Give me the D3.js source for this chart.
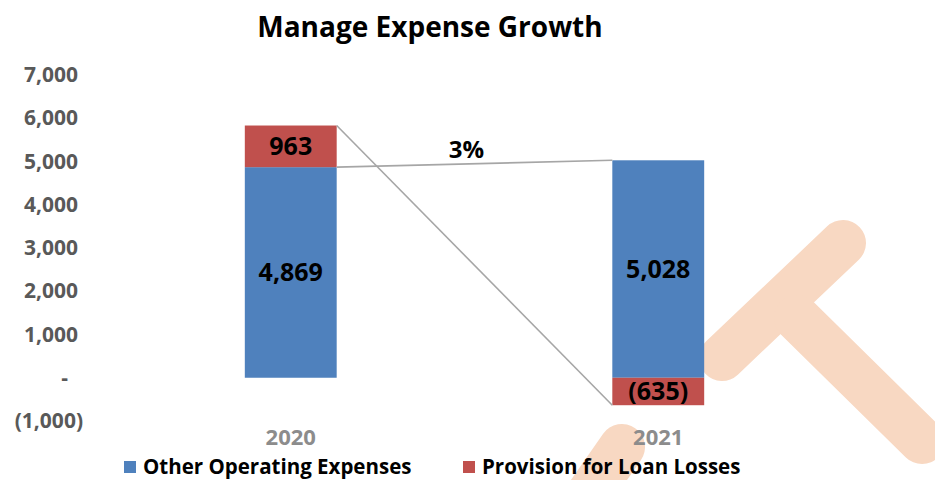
<!DOCTYPE html>
<html>
<head>
<meta charset="utf-8">
<script src="https://cdn.jsdelivr.net/npm/d3@7"></script>
<style>
  body { margin: 0; background: #fff; }
  text { font-family: "Open Sans", "Noto Sans", sans-serif; font-weight: bold; }
</style>
</head>
<body>
<div id="chart"></div>
<script>
// chart data
const years = ["2020", "2021"]
const otherOperating = [4869, 5028]
const loanProvision = [963, -635]
const seriesNames = ["Other Operating Expenses", "Provision for Loan Losses"]
const yTicks = [-1000, 0, 1000, 2000, 3000, 4000, 5000, 6000, 7000]

// watermark strokes (background logo, not data)
const watermark = [
    [[843, 243], [722, 358]],
    [[797, 318], [922, 441]],
    [[622, 447], [585, 500]]
]

const width = 935, height = 480

const svg = d3.select("#chart")
    .append("svg")
    .attr("width", width)
    .attr("height", height)

// watermark behind everything
svg.append("g")
    .selectAll("path")
    .data(watermark)
    .enter()
    .append("path")
    .attr("d", d => d3.line()(d))
    .attr("stroke", "#f8d8c2")
    .attr("stroke-width", 46)
    .attr("stroke-linecap", "round")
    .attr("fill", "none")

const rows = years.map((y, i) => ({year: y, other: otherOperating[i], provision: loanProvision[i]}))

const xScale = d3.scaleBand()
    .domain(years)
    .range([107, 842])
    .paddingInner(0.75)
    .paddingOuter(0.375)

const yScale = d3.scaleLinear()
    .domain([-1000, 7000])
    .range([421, 75])

const colors = ["#4f81bd", "#c0504d"]

// y axis, no line and no ticks
const fmt = d3.format(",")
const yAxis = d3.axisLeft(yScale)
    .tickValues(yTicks)
    .tickSize(0)
    .tickPadding(0)
    .tickFormat(d => d === 0 ? "-" : d < 0 ? "(" + fmt(-d) + ")" : fmt(d))

const yAxisGroup = svg.append("g")
    .attr("transform", "translate(78,0)")
    .call(yAxis)
yAxisGroup.select(".domain").remove()
yAxisGroup.selectAll("text")
    .attr("font-size", 21)
    .attr("fill", "#595959")
    .style("font-family", "\"Open Sans\", sans-serif")
    .attr("dx", d => d === 0 ? -10 : d < 0 ? 5 : 0)

// stacked bars
const keys = ["other", "provision"]
const stack = d3.stack()
    .keys(keys)
    .offset(d3.stackOffsetDiverging)
const stacked = stack(rows)

svg.append("g")
    .selectAll("g")
    .data(stacked)
    .enter()
    .append("g")
    .attr("fill", (d, i) => colors[i])
    .selectAll("rect")
    .data(d => d)
    .enter()
    .append("rect")
    .attr("x", d => xScale(d.data.year))
    .attr("width", xScale.bandwidth())
    .attr("y", d => yScale(Math.max(d[0], d[1])))
    .attr("height", d => Math.abs(yScale(d[0]) - yScale(d[1])))

// connector lines
const x0 = xScale(years[0]) + xScale.bandwidth()
const x1 = xScale(years[1])
const total0 = otherOperating[0] + loanProvision[0]
const bottom1 = Math.min(0, loanProvision[1])
const connectors = [
    [[x0, yScale(otherOperating[0])], [x1, yScale(otherOperating[1])]],
    [[x0, yScale(total0)], [x1, yScale(bottom1)]]
]
svg.append("g")
    .selectAll("path")
    .data(connectors)
    .enter()
    .append("path")
    .attr("d", d => d3.line()(d))
    .attr("stroke", "#a6a6a6")
    .attr("stroke-width", 1.6)
    .attr("fill", "none")

// segment labels
const labelFmt = v => v < 0 ? "(" + fmt(-v) + ")" : fmt(v)
stacked.forEach(s => {
    svg.append("g")
        .selectAll("text")
        .data(s)
        .enter()
        .append("text")
        .attr("x", d => xScale(d.data.year) + xScale.bandwidth() / 2)
        .attr("y", d => yScale((d[0] + d[1]) / 2))
        .attr("dy", "0.36em")
        .attr("text-anchor", "middle")
        .attr("font-size", 25)
        .attr("fill", "#000")
        .text(d => labelFmt(d.data[s.key]))
})

// growth label
const growth = (otherOperating[1] - otherOperating[0]) / otherOperating[0]
svg.append("text")
    .attr("x", (x0 + x1) / 2 - 8)
    .attr("y", (yScale(otherOperating[0]) + yScale(otherOperating[1])) / 2 - 14)
    .attr("dy", "0.36em")
    .attr("text-anchor", "middle")
    .attr("font-size", 24)
    .attr("fill", "#000")
    .text(d3.format(".0%")(growth))

// x labels
svg.append("g")
    .selectAll("text")
    .data(years)
    .enter()
    .append("text")
    .attr("x", d => xScale(d) + xScale.bandwidth() / 2)
    .attr("y", 437)
    .attr("dy", "0.36em")
    .attr("text-anchor", "middle")
    .attr("font-size", 22)
    .attr("fill", "#8c8c8c")
    .text(d => d)

// title
svg.append("text")
    .attr("x", 430)
    .attr("y", 27)
    .attr("dy", "0.36em")
    .attr("text-anchor", "middle")
    .attr("font-size", 28)
    .attr("fill", "#000")
    .text("Manage Expense Growth")

// legend
const legendX = [124, 463]
const legend = svg.append("g")
    .selectAll("g")
    .data(seriesNames)
    .enter()
    .append("g")
    .attr("transform", (d, i) => `translate(${legendX[i]},467)`)
legend.append("rect")
    .attr("x", 0)
    .attr("y", -6)
    .attr("width", 12)
    .attr("height", 12)
    .attr("fill", (d, i) => colors[i])
legend.append("text")
    .attr("x", 19)
    .attr("dy", "0.36em")
    .attr("font-size", 20.5)
    .attr("fill", "#000")
    .text(d => d)
</script>
</body>
</html>
